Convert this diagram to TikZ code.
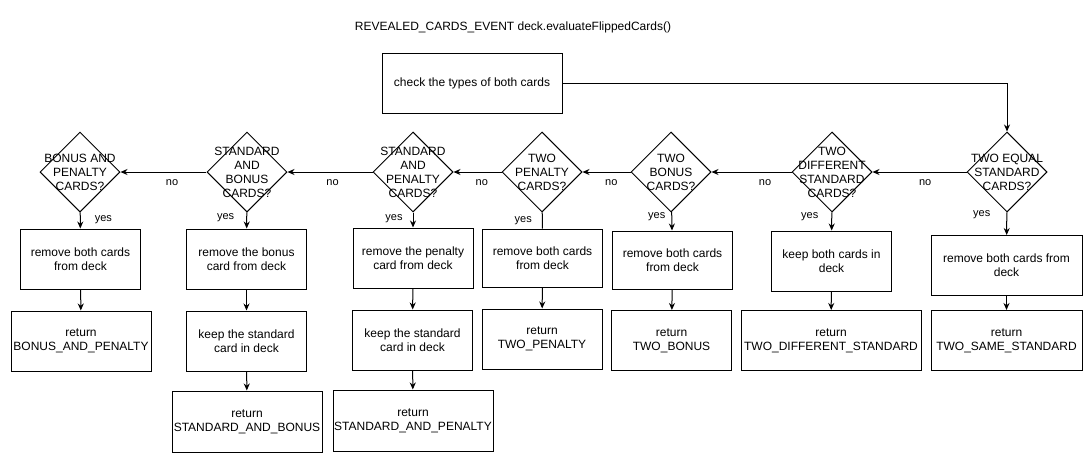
\documentclass[tikz,border=0pt]{standalone}
\usepackage{fontspec}
\setmainfont{Liberation Sans}
\usetikzlibrary{arrows.meta,shapes.geometric}

\begin{document}
\begin{tikzpicture}[x=1pt,y=-1pt,>={Stealth[length=7pt,width=6pt]},
		font=\fontsize{12}{14}\selectfont,
		box/.style={draw,line width=1pt,align=center,minimum width=120pt,minimum height=60pt,inner sep=1pt},
		test/.style={draw,diamond,line width=1pt,minimum width=80pt,minimum height=80pt,inner sep=0pt},
		flow/.style={->,line width=1pt},
		lbl/.style={inner sep=0pt,font=\fontsize{11}{13}\selectfont}]
		\useasboundingbox (0,0) rectangle (1092,461);
		\node (title) at (513,27) {REVEALED\_CARDS\_EVENT deck.evaluateFlippedCards()};
		\node[box,minimum width=180pt] (check) at (472,83) {check the types of both cards};
		% the seven tests, right to left
		\node[test,label={[align=center]center:{TWO EQUAL\\STANDARD\\CARDS?}}] (d7) at (1007,172) {};
		\node[test,label={[align=center]center:{TWO\\DIFFERENT\\STANDARD\\CARDS?}}] (d6) at (832,172) {};
		\node[test,label={[align=center]center:{TWO\\BONUS\\CARDS?}}] (d5) at (671,172) {};
		\node[test,label={[align=center]center:{TWO\\PENALTY\\CARDS?}}] (d4) at (542,172) {};
		\node[test,label={[align=center]center:{STANDARD\\AND\\PENALTY\\CARDS?}}] (d3) at (413,172) {};
		\node[test,label={[align=center]center:{STANDARD\\AND\\BONUS\\CARDS?}}] (d2) at (247,172) {};
		\node[test,label={[align=center]center:{BONUS AND\\PENALTY\\CARDS?}}] (d1) at (80,172) {};
		% actions
		\node[box] (rm1) at (80.5,259) {remove both cards\\from deck};
		\node[box] (rm2) at (246.5,259) {remove the bonus\\card from deck};
		\node[box] (rm3) at (413,258) {remove the penalty\\card from deck};
		\node[box,minimum height=58pt] (rm4) at (542.5,258) {remove both cards\\from deck};
		\node[box,minimum height=58pt] (rm5) at (672.5,260) {remove both cards\\from deck};
		\node[box] (keep6) at (831.5,261) {keep both cards in\\deck};
		\node[box,minimum width=151pt] (rm7) at (1006.5,265.5) {remove both cards from\\deck};
		\node[box] (keep2) at (246.5,341) {keep the standard\\card in deck};
		\node[box] (keep3) at (412.5,340) {keep the standard\\card in deck};
		% results
		\node[box,minimum width=140pt] (ret1) at (81,341) {return\\BONUS\_AND\_PENALTY};
		\node[box,minimum width=150pt,minimum height=61pt] (ret2) at (247,421.5) {return\\STANDARD\_AND\_BONUS};
		\node[box,minimum width=160pt,minimum height=61pt] (ret3) at (413,420.5) {return\\STANDARD\_AND\_PENALTY};
		\node[box] (ret4) at (542,339) {return\\TWO\_PENALTY};
		\node[box] (ret5) at (671.5,340.5) {return\\TWO\_BONUS};
		\node[box,minimum width=180pt] (ret6) at (831,340.5) {return\\TWO\_DIFFERENT\_STANDARD};
		\node[box,minimum width=151pt] (ret7) at (1006.5,340.5) {return\\TWO\_SAME\_STANDARD};
		\draw[flow] (check.east) -| (d7.north);
		\draw[flow] (d7) -- node[lbl,pos=0.44,below=7pt] {no} (d6);
		\draw[flow] (d6) -- node[lbl,pos=0.33,below=7pt] {no} (d5);
		\draw[flow] (d5) -- node[lbl,pos=0.40,below=7pt] {no} (d4);
		\draw[flow] (d4) -- node[lbl,pos=0.41,below=7pt] {no} (d3);
		\draw[flow] (d3) -- node[lbl,pos=0.47,below=7pt] {no} (d2);
		\draw[flow] (d2) -- node[lbl,pos=0.40,below=7pt] {no} (d1);
		\draw[flow] (d1) -- node[lbl,pos=0.44,right=14pt] {yes} (rm1);
		\draw[flow] (d2) -- node[lbl,pos=0.35,left=12pt] {yes} (rm2);
		\draw[flow] (d3) -- node[lbl,pos=0.44,left=10pt] {yes} (rm3);
		\draw[line width=1pt] (d4) -- node[lbl,pos=0.53,left=10pt] {yes} (rm4);
		\draw[flow] (d5) -- node[lbl,pos=0.26,left=6pt] {yes} (rm5);
		\draw[flow] (d6) -- node[lbl,pos=0.26,left=13pt] {yes} (keep6);
		\draw[flow] (d7) -- node[lbl,pos=0.12,left=16pt] {yes} (rm7);
		\draw[flow] (rm1) -- (ret1);
		\draw[flow] (rm2) -- (keep2);
		\draw[flow] (keep2) -- (ret2);
		\draw[flow] (rm3) -- (keep3);
		\draw[flow] (keep3) -- (ret3);
		\draw[flow] (rm4) -- (ret4);
		\draw[flow] (rm5) -- (ret5);
		\draw[flow] (keep6) -- (ret6);
		\draw[flow] (rm7) -- (ret7);
	\end{tikzpicture}
\end{document}
